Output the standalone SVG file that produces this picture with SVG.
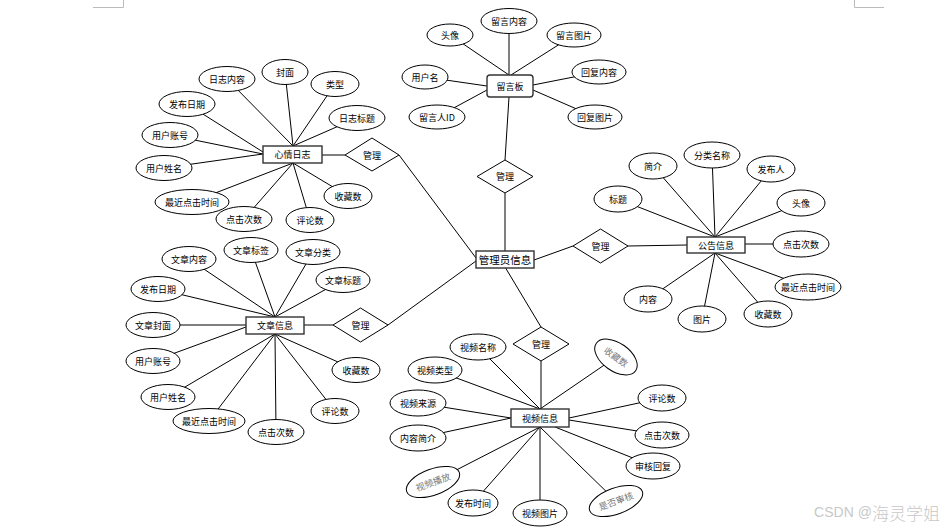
<svg xmlns="http://www.w3.org/2000/svg" width="950" height="529" viewBox="0 0 950 529">
<style>
.ln{stroke:#000;stroke-width:1;fill:none}
.at{fill:#fff;stroke:#000;stroke-width:1}
.bx{fill:#fff;stroke:#333;stroke-width:1.4}
.dm{fill:#fff;stroke:#000;stroke-width:1}
text{font-family:"Noto Sans CJK SC","Liberation Sans",sans-serif;font-size:9px;fill:#000;text-anchor:middle;dominant-baseline:central}
.big{font-size:10.5px}
.gr{fill:#777}
.crn{stroke:#bbb;stroke-width:1;fill:none}
</style>
<rect width="950" height="529" fill="#fff"/>
<path class="crn" d="M93 7.5H123.5V0M884 7.5H854.5V0"/>
<g id="connectors">
<line class="ln" x1="450" y1="35" x2="509" y2="75"/>
<line class="ln" x1="509" y1="21" x2="509" y2="75"/>
<line class="ln" x1="574" y1="35" x2="511" y2="75"/>
<line class="ln" x1="425" y1="77" x2="487" y2="86"/>
<line class="ln" x1="599" y1="72" x2="533" y2="85"/>
<line class="ln" x1="437" y1="117" x2="487" y2="90"/>
<line class="ln" x1="595" y1="117" x2="533" y2="90"/>
<line class="ln" x1="509" y1="97" x2="505" y2="160"/>
<line class="ln" x1="505" y1="193" x2="505" y2="251"/>
<line class="ln" x1="227" y1="79" x2="293" y2="146"/>
<line class="ln" x1="285" y1="72" x2="293" y2="146"/>
<line class="ln" x1="335" y1="84" x2="293" y2="146"/>
<line class="ln" x1="357" y1="118" x2="293" y2="146"/>
<line class="ln" x1="187" y1="104" x2="263" y2="152"/>
<line class="ln" x1="170" y1="135" x2="263" y2="154"/>
<line class="ln" x1="164" y1="168" x2="263" y2="154"/>
<line class="ln" x1="192" y1="202" x2="293" y2="163"/>
<line class="ln" x1="244" y1="219" x2="293" y2="163"/>
<line class="ln" x1="310" y1="220" x2="293" y2="163"/>
<line class="ln" x1="348" y1="196" x2="293" y2="163"/>
<line class="ln" x1="322" y1="155" x2="345" y2="155"/>
<line class="ln" x1="399" y1="155" x2="476" y2="258"/>
<line class="ln" x1="189" y1="259" x2="275" y2="317"/>
<line class="ln" x1="251" y1="250" x2="275" y2="317"/>
<line class="ln" x1="313" y1="252" x2="275" y2="317"/>
<line class="ln" x1="343" y1="280" x2="275" y2="317"/>
<line class="ln" x1="158" y1="289" x2="275" y2="317"/>
<line class="ln" x1="153" y1="325" x2="246" y2="325"/>
<line class="ln" x1="153" y1="361" x2="246" y2="327"/>
<line class="ln" x1="168" y1="397" x2="275" y2="334"/>
<line class="ln" x1="209" y1="421" x2="275" y2="334"/>
<line class="ln" x1="276" y1="432" x2="275" y2="334"/>
<line class="ln" x1="335" y1="411" x2="275" y2="334"/>
<line class="ln" x1="356" y1="370" x2="275" y2="334"/>
<line class="ln" x1="304" y1="325" x2="333" y2="325"/>
<line class="ln" x1="388" y1="325" x2="476" y2="261"/>
<line class="ln" x1="653" y1="166" x2="715" y2="237"/>
<line class="ln" x1="712" y1="155" x2="715" y2="237"/>
<line class="ln" x1="771" y1="169" x2="715" y2="237"/>
<line class="ln" x1="618" y1="199" x2="715" y2="237"/>
<line class="ln" x1="801" y1="203" x2="715" y2="237"/>
<line class="ln" x1="801" y1="244" x2="745" y2="244"/>
<line class="ln" x1="807" y1="287" x2="715" y2="253"/>
<line class="ln" x1="648" y1="299" x2="715" y2="253"/>
<line class="ln" x1="702" y1="319" x2="715" y2="253"/>
<line class="ln" x1="768" y1="314" x2="715" y2="253"/>
<line class="ln" x1="534" y1="260" x2="573" y2="246"/>
<line class="ln" x1="628" y1="246" x2="687" y2="245"/>
<line class="ln" x1="505" y1="267" x2="541" y2="327"/>
<line class="ln" x1="541" y1="361" x2="541" y2="409"/>
<line class="ln" x1="478" y1="347" x2="540" y2="409"/>
<line class="ln" x1="435" y1="370" x2="540" y2="409"/>
<line class="ln" x1="418" y1="403" x2="511" y2="418"/>
<line class="ln" x1="418" y1="438" x2="511" y2="418"/>
<line class="ln" x1="433" y1="482" x2="540" y2="427"/>
<line class="ln" x1="473" y1="503" x2="540" y2="427"/>
<line class="ln" x1="540" y1="513" x2="540" y2="427"/>
<line class="ln" x1="616" y1="501" x2="540" y2="427"/>
<line class="ln" x1="653" y1="466" x2="555" y2="427"/>
<line class="ln" x1="662" y1="435" x2="569" y2="420"/>
<line class="ln" x1="662" y1="398" x2="569" y2="418"/>
<line class="ln" x1="616" y1="357" x2="540" y2="409"/>
</g>

<g id="lyb"><rect class="bx" x="487" y="75" width="46" height="22" rx="3"/><text x="510" y="86">留言板</text></g>
<g id="lyb-tx"><ellipse class="at" cx="450" cy="35" rx="23" ry="11"/><text x="450" y="35">头像</text></g>
<g id="lyb-nr"><ellipse class="at" cx="509" cy="21" rx="28" ry="12.5"/><text x="509" y="21">留言内容</text></g>
<g id="lyb-tp"><ellipse class="at" cx="574" cy="35" rx="27" ry="12"/><text x="574" y="35">留言图片</text></g>
<g id="lyb-yhm"><ellipse class="at" cx="425" cy="77" rx="23" ry="12"/><text x="425" y="77">用户名</text></g>
<g id="lyb-hfnr"><ellipse class="at" cx="599" cy="72" rx="27" ry="12"/><text x="599" y="72">回复内容</text></g>
<g id="lyb-id"><ellipse class="at" cx="437" cy="117" rx="28" ry="12"/><text x="437" y="117">留言人ID</text></g>
<g id="lyb-hftp"><ellipse class="at" cx="595" cy="117" rx="27" ry="12"/><text x="595" y="117">回复图片</text></g>
<g id="gl-top"><polygon class="dm" points="505,160 533,176.5 505,193 477,176.5"/><text x="505" y="176.5">管理</text></g>

<g id="admin"><rect class="bx" x="476" y="251" width="58" height="17"/><text class="big" x="505" y="259.5">管理员信息</text></g>

<g id="xqrz"><rect class="bx" x="263" y="146" width="59" height="17"/><text x="292.5" y="154.5">心情日志</text></g>
<g id="gl-xqrz"><polygon class="dm" points="345,155 372,138 399,155 372,171"/><text x="372" y="155">管理</text></g>
<g id="xq-1"><ellipse class="at" cx="227" cy="79" rx="28" ry="12.5"/><text x="227" y="79">日志内容</text></g>
<g id="xq-2"><ellipse class="at" cx="285" cy="72" rx="23" ry="12.5"/><text x="285" y="72">封面</text></g>
<g id="xq-3"><ellipse class="at" cx="335" cy="84" rx="24" ry="12.5"/><text x="335" y="84">类型</text></g>
<g id="xq-4"><ellipse class="at" cx="357" cy="118" rx="28" ry="12.5"/><text x="357" y="118">日志标题</text></g>
<g id="xq-5"><ellipse class="at" cx="187" cy="104" rx="28" ry="12.5"/><text x="187" y="104">发布日期</text></g>
<g id="xq-6"><ellipse class="at" cx="170" cy="135" rx="28" ry="12.5"/><text x="170" y="135">用户账号</text></g>
<g id="xq-7"><ellipse class="at" cx="164" cy="168" rx="28" ry="12.5"/><text x="164" y="168">用户姓名</text></g>
<g id="xq-8"><ellipse class="at" cx="192" cy="202" rx="37" ry="12.5"/><text x="192" y="202">最近点击时间</text></g>
<g id="xq-9"><ellipse class="at" cx="244" cy="219" rx="28" ry="12.5"/><text x="244" y="219">点击次数</text></g>
<g id="xq-10"><ellipse class="at" cx="310" cy="220" rx="24" ry="12.5"/><text x="310" y="220">评论数</text></g>
<g id="xq-11"><ellipse class="at" cx="348" cy="196" rx="24" ry="12.5"/><text x="348" y="196">收藏数</text></g>

<g id="wzxx"><rect class="bx" x="246" y="317" width="58" height="17"/><text x="275" y="325.5">文章信息</text></g>
<g id="gl-wzxx"><polygon class="dm" points="333,325 360.5,308 388,325 360.5,342"/><text x="360.5" y="325">管理</text></g>
<g id="wz-1"><ellipse class="at" cx="189" cy="259" rx="27" ry="12.5"/><text x="189" y="259">文章内容</text></g>
<g id="wz-2"><ellipse class="at" cx="251" cy="250" rx="27" ry="12.5"/><text x="251" y="250">文章标签</text></g>
<g id="wz-3"><ellipse class="at" cx="313" cy="252" rx="27" ry="12.5"/><text x="313" y="252">文章分类</text></g>
<g id="wz-4"><ellipse class="at" cx="343" cy="280" rx="27" ry="12.5"/><text x="343" y="280">文章标题</text></g>
<g id="wz-5"><ellipse class="at" cx="158" cy="289" rx="27" ry="12.5"/><text x="158" y="289">发布日期</text></g>
<g id="wz-6"><ellipse class="at" cx="153" cy="325" rx="27" ry="12.5"/><text x="153" y="325">文章封面</text></g>
<g id="wz-7"><ellipse class="at" cx="153" cy="361" rx="27" ry="12.5"/><text x="153" y="361">用户账号</text></g>
<g id="wz-8"><ellipse class="at" cx="168" cy="397" rx="27" ry="12.5"/><text x="168" y="397">用户姓名</text></g>
<g id="wz-9"><ellipse class="at" cx="209" cy="421" rx="36" ry="12.5"/><text x="209" y="421">最近点击时间</text></g>
<g id="wz-10"><ellipse class="at" cx="276" cy="432" rx="28" ry="12.5"/><text x="276" y="432">点击次数</text></g>
<g id="wz-11"><ellipse class="at" cx="335" cy="411" rx="24" ry="12.5"/><text x="335" y="411">评论数</text></g>
<g id="wz-12"><ellipse class="at" cx="356" cy="370" rx="24" ry="12.5"/><text x="356" y="370">收藏数</text></g>

<g id="ggxx"><rect class="bx" x="687" y="237" width="58" height="16"/><text x="716" y="245">公告信息</text></g>
<g id="gl-ggxx"><polygon class="dm" points="573,246 600.5,229 628,246 600.5,263"/><text x="600.5" y="246">管理</text></g>
<g id="gg-1"><ellipse class="at" cx="653" cy="166" rx="24" ry="13"/><text x="653" y="166">简介</text></g>
<g id="gg-2"><ellipse class="at" cx="712" cy="155" rx="28" ry="13"/><text x="712" y="155">分类名称</text></g>
<g id="gg-3"><ellipse class="at" cx="771" cy="169" rx="24" ry="13"/><text x="771" y="169">发布人</text></g>
<g id="gg-4"><ellipse class="at" cx="618" cy="199" rx="24" ry="13"/><text x="618" y="199">标题</text></g>
<g id="gg-5"><ellipse class="at" cx="801" cy="203" rx="24" ry="13"/><text x="801" y="203">头像</text></g>
<g id="gg-6"><ellipse class="at" cx="801" cy="244" rx="28" ry="13"/><text x="801" y="244">点击次数</text></g>
<g id="gg-7"><ellipse class="at" cx="808" cy="287" rx="33" ry="13"/><text x="808" y="287">最近点击时间</text></g>
<g id="gg-8"><ellipse class="at" cx="648" cy="299" rx="24" ry="13"/><text x="648" y="299">内容</text></g>
<g id="gg-9"><ellipse class="at" cx="702" cy="319" rx="24" ry="13"/><text x="702" y="319">图片</text></g>
<g id="gg-10"><ellipse class="at" cx="768" cy="314" rx="24" ry="13"/><text x="768" y="314">收藏数</text></g>

<g id="gl-spxx"><polygon class="dm" points="541,327 569,344 541,361 513,344"/><text x="541" y="344">管理</text></g>
<g id="spxx"><rect class="bx" x="511" y="409" width="58" height="18"/><text x="540" y="418">视频信息</text></g>
<g id="sp-1"><ellipse class="at" cx="478" cy="347" rx="28" ry="13"/><text x="478" y="347">视频名称</text></g>
<g id="sp-2"><ellipse class="at" cx="435" cy="370" rx="27" ry="13"/><text x="435" y="370">视频类型</text></g>
<g id="sp-3"><ellipse class="at" cx="418" cy="403" rx="28" ry="13"/><text x="418" y="403">视频来源</text></g>
<g id="sp-4"><ellipse class="at" cx="418" cy="438" rx="28" ry="13"/><text x="418" y="438">内容简介</text></g>
<g id="sp-5" transform="rotate(-20 433 482)"><ellipse class="at" cx="433" cy="482" rx="28" ry="13"/><text class="gr" x="433" y="482">视频播放</text></g>
<g id="sp-6"><ellipse class="at" cx="473" cy="503" rx="25" ry="13"/><text x="473" y="503">发布时间</text></g>
<g id="sp-7"><ellipse class="at" cx="540" cy="513" rx="27" ry="13"/><text x="540" y="513">视频图片</text></g>
<g id="sp-8" transform="rotate(-20 616 501)"><ellipse class="at" cx="616" cy="501" rx="28" ry="13"/><text class="gr" x="616" y="501">是否审核</text></g>
<g id="sp-9"><ellipse class="at" cx="653" cy="466" rx="27" ry="13"/><text x="653" y="466">审核回复</text></g>
<g id="sp-10"><ellipse class="at" cx="662" cy="435" rx="27" ry="13"/><text x="662" y="435">点击次数</text></g>
<g id="sp-11"><ellipse class="at" cx="662" cy="398" rx="24" ry="13"/><text x="662" y="398">评论数</text></g>
<g id="sp-12" transform="rotate(35 616 357)"><ellipse class="at" cx="616" cy="357" rx="24" ry="14"/><text class="gr" x="616" y="357">收藏数</text></g>

<text x="877" y="512" style="font-size:14px;fill:#c8c8c8;font-family:'Liberation Sans','Noto Sans CJK SC',sans-serif">CSDN @<tspan style="font-size:17px;font-weight:300;font-family:'Noto Sans CJK SC',sans-serif">海灵学姐</tspan></text>
</svg>
